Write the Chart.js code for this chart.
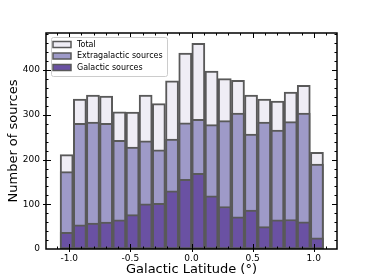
<!DOCTYPE html>
<html>
<head>
<meta charset="utf-8">
<script src="https://cdn.jsdelivr.net/npm/chart.js@4"></script>
<style>
html, body { margin: 0; padding: 0; background: #fff; }
</style>
</head>
<body>
<canvas id="myChart-hist" width="374" height="280"></canvas>
<script>
// bin centres (deg) and counts
const binCenters = [-1.021, -0.913, -0.806, -0.698, -0.590, -0.482, -0.375, -0.267, -0.159, -0.051,
                    0.056, 0.164, 0.272, 0.380, 0.487, 0.595, 0.703, 0.811, 0.918, 1.026];
const totalCounts = [211, 335, 344, 342, 307, 306, 344, 325, 376, 438,
                     460, 398, 381, 377, 344, 335, 331, 351, 366, 216];
const extragalacticCounts = [173, 281, 284, 281, 243, 228, 242, 222, 246, 282,
                             290, 278, 287, 304, 257, 284, 266, 285, 304, 190];
const galacticCounts = [37, 54, 58, 60, 65, 77, 101, 102, 130, 156,
                        169, 119, 95, 72, 87, 50, 65, 66, 61, 25];
const xTickLabels = [-1.0, -0.5, 0.0, 0.5, 1.0];
const yTickLabels = [0, 100, 200, 300, 400];

const FONT = "'DejaVu Sans', sans-serif";
const EDGE = "#595959";

function toPoints(arr) {
    return binCenters.map((x, i) => ({ x: x, y: arr[i] }));
}

// frame, inward ticks on all four sides, legend box
const framePlugin = {
    id: "frame",
    afterDraw(chart) {
        const ctx = chart.ctx;
        const a = chart.chartArea;
        const xs = chart.scales.x, ys = chart.scales.y;
        ctx.save();
        ctx.strokeStyle = "#000";
        ctx.lineWidth = 1.5;
        ctx.strokeRect(a.left, a.top, a.right - a.left, a.bottom - a.top);

        ctx.lineWidth = 1;
        for (let k = -11; k <= 11; k++) {
            const v = k / 10;
            const px = Math.round(xs.getPixelForValue(v)) + 0.5;
            if (px <= a.left + 1 || px >= a.right - 1) continue;
            const major = k % 5 === 0;
            const len = major ? 5 : 2.5;
            ctx.beginPath();
            ctx.moveTo(px, a.bottom + (major ? 3 : 0)); ctx.lineTo(px, a.bottom - len);
            ctx.moveTo(px, a.top); ctx.lineTo(px, a.top + len);
            ctx.stroke();
        }
        for (let v = 0; v <= 480; v += 20) {
            const py = Math.round(ys.getPixelForValue(v)) + 0.5;
            if (py <= a.top + 1 || py >= a.bottom - 1) continue;
            const major = v % 100 === 0;
            const len = major ? 5 : 2.5;
            ctx.beginPath();
            ctx.moveTo(a.left - (major ? 3 : 0), py); ctx.lineTo(a.left + len, py);
            ctx.moveTo(a.right, py); ctx.lineTo(a.right - len, py);
            ctx.stroke();
        }

        // legend
        const lx = 51, ly = 37, lw = 116, lh = 39;
        ctx.fillStyle = "rgba(255,255,255,0.8)";
        ctx.strokeStyle = "#cccccc";
        ctx.lineWidth = 1;
        ctx.beginPath();
        ctx.roundRect(lx + 0.5, ly + 0.5, lw, lh, 2);
        ctx.fill();
        ctx.stroke();
        ctx.font = "8px " + FONT;
        ctx.textBaseline = "middle";
        const rows = [44.5, 56, 67.5];
        chart.data.datasets.forEach((ds, i) => {
            const cy = rows[i];
            ctx.fillStyle = ds.backgroundColor;
            ctx.fillRect(53, cy - 3, 18, 6);
            ctx.strokeStyle = EDGE;
            ctx.lineWidth = 1.5;
            ctx.strokeRect(53, cy - 3, 18, 6);
            ctx.fillStyle = "#000";
            ctx.fillText(ds.label, 77, cy);
        });
        ctx.restore();
    }
};

const ctx = document.getElementById("myChart-hist");
new Chart(ctx, {
    type: "bar",
    data: {
        datasets: [
            { label: "Total", data: toPoints(totalCounts), backgroundColor: "#efedf5", order: 3 },
            { label: "Extragalactic sources", data: toPoints(extragalacticCounts), backgroundColor: "#9e9ac8", order: 2 },
            { label: "Galactic sources", data: toPoints(galacticCounts), backgroundColor: "#6a51a3", order: 1 },
        ],
    },
    options: {
        responsive: false,
        animation: false,
        layout: { padding: { top: 33, right: 37, left: 0, bottom: 0 } },
        datasets: {
            bar: {
                grouped: false,
                barPercentage: 1,
                categoryPercentage: 1,
                borderColor: EDGE,
                borderWidth: 2,
                borderSkipped: false,
            },
        },
        plugins: {
            legend: { display: false },
            tooltip: { enabled: false },
        },
        scales: {
            x: {
                type: "linear",
                offset: false,
                min: -1.19,
                max: 1.19,
                afterFit: s => { s.height = 31; },
                afterBuildTicks: s => { s.ticks = xTickLabels.map(v => ({ value: v })); },
                grid: { display: false, drawTicks: false, offset: false },
                border: { display: false },
                ticks: {
                    padding: 4,
                    color: "#000",
                    font: { family: FONT, size: 9 },
                    callback: v => v.toFixed(1),
                },
                title: {
                    display: true,
                    text: "Galactic Latitude (°)",
                    color: "#000",
                    font: { family: FONT, size: 13 },
                    padding: { top: 0, bottom: 3 },
                },
            },
            y: {
                min: 0,
                max: 483,
                afterFit: s => { s.width = 46; },
                afterBuildTicks: s => { s.ticks = yTickLabels.map(v => ({ value: v })); },
                grid: { display: false, drawTicks: false },
                border: { display: false },
                ticks: {
                    padding: 6,
                    color: "#000",
                    font: { family: FONT, size: 9 },
                },
                title: {
                    display: true,
                    text: "Number of sources",
                    color: "#000",
                    font: { family: FONT, size: 13 },
                    padding: { top: 6, bottom: 0 },
                },
            },
        },
    },
    plugins: [framePlugin],
});
</script>
</body>
</html>
